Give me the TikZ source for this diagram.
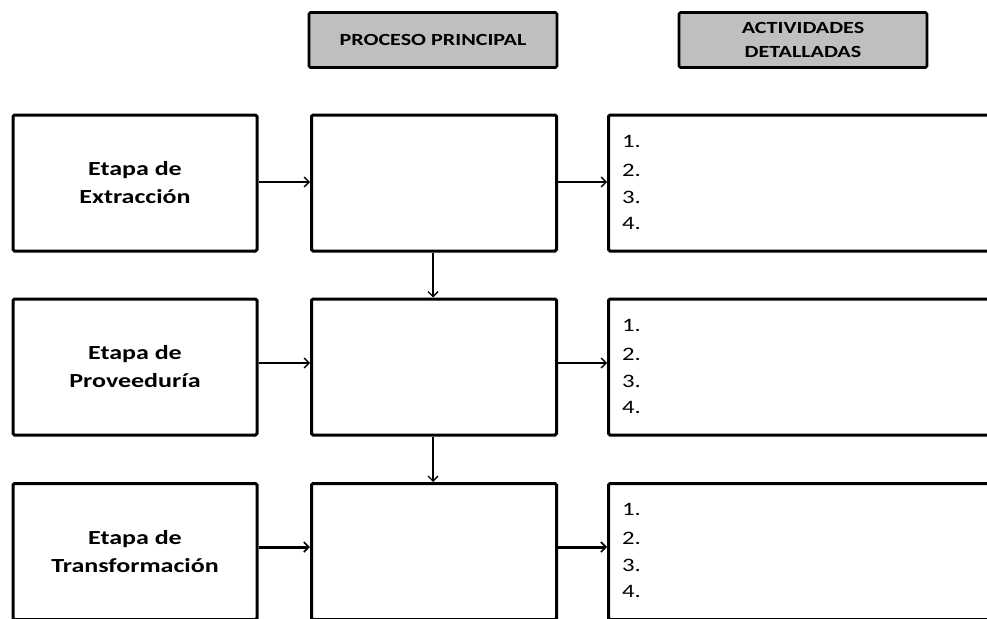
\documentclass[tikz,border=0pt]{standalone}
\usepackage{fontspec}
\setmainfont{Carlito}[FakeStretch=1.3]
\usetikzlibrary{arrows.meta}
\begin{document}
\begin{tikzpicture}[x=1pt,y=-1pt,
  box/.style={draw=black,line width=3pt,rectangle,inner sep=0pt,rounded corners=1.5pt,fill=white},
  leftbox/.style={box,minimum width=244pt,minimum height=136pt,align=center,
    font=\fontsize{20}{28}\selectfont\bfseries},
  midbox/.style={box,minimum width=245pt,minimum height=136pt},
  rightbox/.style={box,minimum width=500pt,minimum height=136pt},
  hdr/.style={box,fill=black!25,line width=2.6pt,minimum width=248pt,minimum height=55pt,
    align=center,font=\fontsize{17}{24}\selectfont\bfseries},
  item/.style={anchor=base west,inner sep=0pt,font=\fontsize{19}{24}\selectfont},
  thin/.style={-{Straight Barb[length=5pt,width=10pt,line width=1.3pt]},line width=1.3pt},
  thick/.style={-{Straight Barb[length=5pt,width=10pt,line width=1.6pt]},line width=3pt}
]
\useasboundingbox (0,0) rectangle (987,618);

% headers
\node[hdr] (h1) at (433,40) {PROCESO PRINCIPAL};
\node[hdr] (h2) at (803,40) {ACTIVIDADES\\DETALLADAS};

% row 1
\node[leftbox] (l1) at (135,183) {Etapa de\\Extracción};
\node[midbox] (m1) at (434,183) {};
\node[rightbox] (r1) at (858.5,183) {};
% row 2
\node[leftbox] (l2) at (135,367) {Etapa de\\Proveeduría};
\node[midbox] (m2) at (434,367) {};
\node[rightbox] (r2) at (858.5,367) {};
% row 3
\node[leftbox] (l3) at (135,551.5) {Etapa de\\Transformación};
\node[midbox] (m3) at (434,551.5) {};
\node[rightbox] (r3) at (858.5,551.5) {};

% list items
\foreach \r/\t in {1/115, 2/299.5, 3/483.5}{
  \node[item] (n\r a) at (622,\t+32) {1.};
  \node[item] (n\r b) at (622,\t+61) {2.};
  \node[item] (n\r c) at (622,\t+88) {3.};
  \node[item] (n\r d) at (622,\t+114) {4.};
}

% connectors
\draw[thin] ([yshift=1pt]l1.east) -- ([yshift=1pt]m1.west);
\draw[thin] ([yshift=1pt]m1.east) -- ([yshift=1pt]r1.west);
\draw[thin] ([yshift=4pt]l2.east) -- ([yshift=4pt]m2.west);
\draw[thin] ([yshift=4pt]m2.east) -- ([yshift=4pt]r2.west);
\draw[thick] ([yshift=4.5pt]l3.east) -- ([yshift=4.5pt]m3.west);
\draw[thick] ([yshift=4.5pt]m3.east) -- ([yshift=4.5pt]r3.west);
\draw[thin] ([xshift=-1pt]m1.south) -- ([xshift=-1pt]m2.north);
\draw[thin] ([xshift=-1pt]m2.south) -- ([xshift=-1pt]m3.north);
\end{tikzpicture}
\end{document}
